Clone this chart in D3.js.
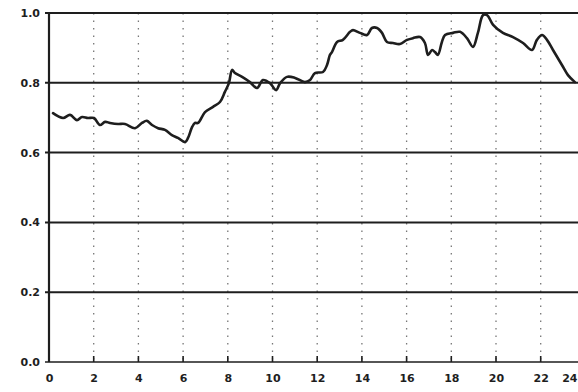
<!DOCTYPE html>
<html><head><meta charset="utf-8">
<script src="https://cdn.jsdelivr.net/npm/d3@7"></script>
<style>body{margin:0;background:#fff}svg{display:block}</style>
</head><body>
<script>
const hours = [0.18,0.63,0.94,1.25,1.48,1.74,2.01,2.28,2.51,2.73,3.09,3.40,3.85,4.16,4.38,4.61,4.88,5.19,5.50,5.77,6.09,6.22,6.40,6.53,6.67,6.98,7.34,7.65,7.87,8.05,8.19,8.32,8.64,8.99,9.31,9.57,9.89,10.16,10.34,10.65,11.01,11.45,11.68,11.90,12.26,12.44,12.57,12.66,12.89,13.15,13.47,13.60,13.91,14.23,14.45,14.68,14.90,15.12,15.39,15.70,16.02,16.29,16.60,16.82,16.96,17.14,17.27,17.40,17.58,17.72,18.08,18.39,18.70,18.97,19.19,19.42,19.60,19.87,20.31,20.76,21.21,21.61,21.83,22.06,22.28,22.55,22.95,23.22,23.53];
const values = [0.713,0.699,0.708,0.693,0.702,0.699,0.699,0.679,0.688,0.685,0.682,0.682,0.670,0.685,0.691,0.679,0.670,0.665,0.650,0.642,0.630,0.642,0.673,0.685,0.685,0.716,0.731,0.745,0.774,0.799,0.837,0.828,0.817,0.802,0.785,0.808,0.799,0.779,0.799,0.817,0.814,0.802,0.808,0.828,0.831,0.851,0.880,0.888,0.917,0.923,0.946,0.951,0.943,0.937,0.957,0.957,0.943,0.917,0.914,0.911,0.923,0.928,0.931,0.914,0.880,0.894,0.888,0.880,0.917,0.937,0.943,0.946,0.928,0.903,0.943,0.994,0.994,0.966,0.943,0.931,0.914,0.894,0.923,0.937,0.923,0.894,0.851,0.822,0.802];
const xTicks = [0,2,4,6,8,10,12,14,16,18,20,22,24];
const yTicks = [0.0,0.2,0.4,0.6,0.8,1.0];
const yTickLabels = ["0.0","0.2","0.4","0.6","0.8","1.0"];

const W = 578, H = 392;
const svg = d3.select("body").append("svg").attr("width", W).attr("height", H);
const x = d3.scaleLinear().domain([0, 24]).range([49, 585.4]);
const y = d3.scaleLinear().domain([0, 1]).range([362, 13]);
const ink = "#1e1e1e";

// vertical dotted grid
svg.append("g").selectAll("line").data(xTicks.filter(d => d > 0 && d < 24)).join("line")
  .attr("x1", d => x(d)).attr("x2", d => x(d))
  .attr("y1", y(1)).attr("y2", y(0))
  .attr("stroke", "#777").attr("stroke-width", 1.3)
  .attr("stroke-dasharray", "1.5,6");

// horizontal grid lines
svg.append("g").selectAll("line").data(yTicks).join("line")
  .attr("x1", x(0) - 4).attr("x2", W + 10)
  .attr("y1", d => y(d)).attr("y2", d => y(d))
  .attr("stroke", ink).attr("stroke-width", d => d === 0 ? 1.6 : 2);

// y axis line
svg.append("line").attr("x1", x(0)).attr("x2", x(0)).attr("y1", y(1) - 1).attr("y2", y(0))
  .attr("stroke", ink).attr("stroke-width", 2.2);

// x axis ticks
const xAxis = d3.axisBottom(x).tickValues(xTicks).tickSize(0).tickPadding(12).tickFormat(d3.format("d"));
const gx = svg.append("g").attr("transform", `translate(0,${y(0)})`).call(xAxis);
gx.select(".domain").remove();
gx.selectAll("text").attr("fill", ink).attr("font-family", "DejaVu Sans, sans-serif")
  .attr("font-weight", "bold").attr("font-size", 11);
// keep the last label inside the canvas
gx.selectAll(".tick").filter(d => d === 24).select("text")
  .attr("text-anchor", "end").attr("x", W - 1 - x(24));
svg.append("g").selectAll("line").data(xTicks.filter(d => d > 0)).join("line")
  .attr("x1", d => x(d)).attr("x2", d => x(d)).attr("y1", y(0)).attr("y2", y(0) - 6)
  .attr("stroke", ink).attr("stroke-width", 1.6);

// y axis labels
const yAxis = d3.axisLeft(y).tickValues(yTicks).tickSize(0).tickPadding(9)
  .tickFormat((d, i) => yTickLabels[i]);
const gy = svg.append("g").attr("transform", `translate(${x(0)},0)`).call(yAxis);
gy.select(".domain").remove();
gy.selectAll("text").attr("fill", ink).attr("font-family", "DejaVu Sans, sans-serif")
  .attr("font-weight", "bold").attr("font-size", 11);

// data line
const data = hours.map((h, i) => ({h, v: values[i]}));
svg.append("path").datum(data)
  .attr("fill", "none").attr("stroke", ink).attr("stroke-width", 2.6)
  .attr("stroke-linejoin", "round").attr("stroke-linecap", "round")
  .attr("d", d3.line().x(d => x(d.h)).y(d => y(d.v)).curve(d3.curveCatmullRom.alpha(0.5)));
</script>
</body></html>
